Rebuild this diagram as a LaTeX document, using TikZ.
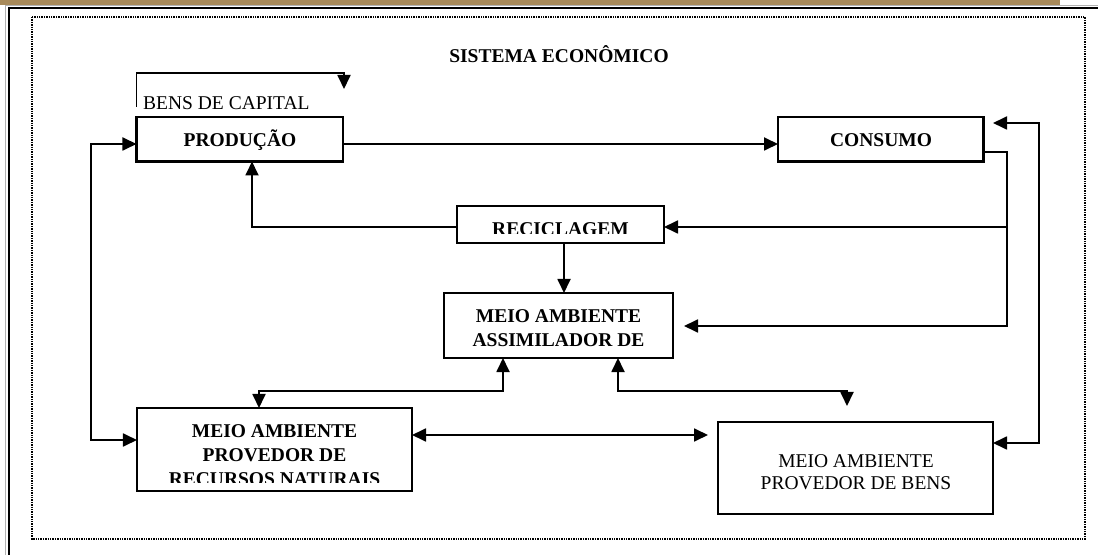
\documentclass[tikz,border=0pt]{standalone}
\usepackage{fontspec}
\setmainfont{Liberation Serif}
\usetikzlibrary{arrows.meta}
\definecolor{bartan}{RGB}{168,138,90}
\begin{document}
\begin{tikzpicture}[x=1bp,y=-1bp,
  box/.style={draw, line width=2.4bp, inner sep=0pt, outer sep=0pt},
  conn/.style={line width=1.8bp},
  arr/.style={conn, -{Triangle[width=13bp,length=14bp]}},
  both/.style={conn, {Triangle[width=13bp,length=14bp]}-{Triangle[width=13bp,length=14bp]}},
  btxt/.style={anchor=base, inner sep=0pt, font=\bfseries\fontsize{19.5bp}{24bp}\selectfont},
  rtxt/.style={anchor=base, inner sep=0pt, font=\fontsize{19.5bp}{24bp}\selectfont}]
\clip (0,0) rectangle (1098,555);
\fill[white] (0,0) rectangle (1098,555);
% top bar and frame
\fill[bartan] (0,0) rectangle (1060,5.5);
\draw[gray!60, line width=1bp] (5.5,5.5) rectangle (1200,700);
\draw[black, line width=2bp] (8.5,8.5) rectangle (1200,700);
\draw[line width=2bp, dash pattern=on 1.4bp off 1bp] (32,17) rectangle (1085,539);
% title
\node[btxt] (title) at (559,63) {SISTEMA ECONÔMICO};
% boxes
\node[box, minimum width=206.5bp, minimum height=44.5bp] (prod) at (239.75,139.25) {};
\node[box, minimum width=205.5bp, minimum height=44.5bp] (cons) at (880.75,139.25) {};
\node[box, minimum width=207bp, minimum height=37bp] (recic) at (560.5,224.5) {};
\node[box, minimum width=229bp, minimum height=65bp] (assim) at (558.5,325.5) {};
\node[box, minimum width=275bp, minimum height=83bp] (recur) at (274.5,449.5) {};
\node[box, minimum width=275bp, minimum height=92bp] (bens) at (855.5,468) {};
% texts
\node[rtxt, anchor=base west] (capital) at (143,110) {BENS DE CAPITAL};
\node[btxt] (tprod) at (240,147) {PRODUÇÃO};
\node[btxt] (tcons) at (881,147) {CONSUMO};
\begin{scope}
  \clip (457,206) rectangle (664,234);
  \node[btxt] (trecic) at (560.5,235.5) {RECICLAGEM};
\end{scope}
\node[btxt] (tassim1) at (558.5,323) {MEIO AMBIENTE};
\node[btxt] (tassim2) at (558.5,347) {ASSIMILADOR DE};
\node[btxt] (trecur1) at (274.5,437) {MEIO AMBIENTE};
\node[btxt] (trecur2) at (274.5,461) {PROVEDOR DE};
\begin{scope}
  \clip (137,408) rectangle (412,482);
  \node[btxt] (trecur3) at (274.5,485) {RECURSOS NATURAIS};
\end{scope}
\node[rtxt] (tbens1) at (856,467) {MEIO AMBIENTE};
\node[rtxt] (tbens2) at (856,489) {PROVEDOR DE BENS};
% helper coordinates
\coordinate (x91) at (91,0);
\coordinate (x252) at (252,0);
\coordinate (x259) at (259,0);
\coordinate (x503) at (503,0);
\coordinate (x564) at (564,0);
\coordinate (x618) at (618,0);
\coordinate (x847) at (847,0);
\coordinate (x1007) at (1007,0);
\coordinate (x1039) at (1039,0);
\coordinate (y123) at (0,123);
\coordinate (y144) at (0,144);
\coordinate (y152) at (0,152);
\coordinate (y227) at (0,227);
\coordinate (y326) at (0,326);
\coordinate (y391) at (0,391);
\coordinate (y435) at (0,435);
\coordinate (y440) at (0,440);
\coordinate (y443) at (0,443);
\coordinate (kS) at (136.5,107);
\coordinate (kT) at (344,73);
\coordinate (kE) at (344,89);
\coordinate (fE) at (847,406);
% connectors
\draw[arr] (kS) |- (kT) -- (kE);
\draw[arr] (prod.east |- y144) -- (cons.west |- y144);
\draw[arr, shorten >=11bp] (cons.east |- y152) -| (x1007 |- y326) -- (assim.east |- y326);
\draw[arr] (x1007 |- y227) -- (recic.east |- y227);
\draw[both, shorten >=9.5bp] (bens.east |- y443) -| (x1039 |- y123) -- (cons.east |- y123);
\draw[arr] (recic.west |- y227) -| (prod.south -| x252);
\draw[arr] (recic.south -| x564) -- (assim.north -| x564);
\draw[both] (assim.south -| x503) |- (x259 |- y391) -- (recur.north -| x259);
\draw[both] (assim.south -| x618) |- (x847 |- y391) -- (fE);
\draw[both, shorten >=10bp] (recur.east |- y435) -- (bens.west |- y435);
\draw[both] (prod.west |- y144) -| (x91 |- y440) -- (recur.west |- y440);
\end{tikzpicture}
\end{document}
